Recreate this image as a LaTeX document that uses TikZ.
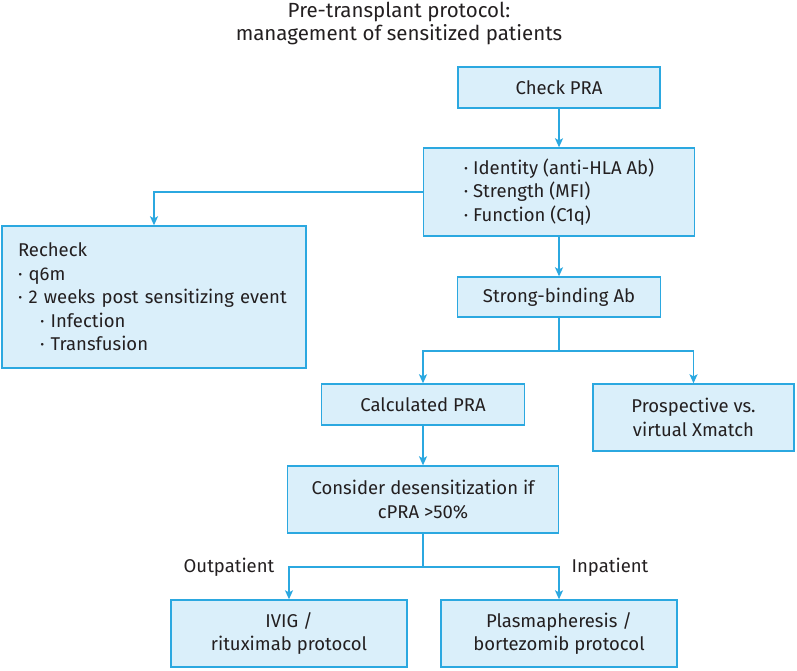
\documentclass[tikz,border=0pt]{standalone}
\usepackage{fontspec}
\setmainfont{Fira Sans}
\usetikzlibrary{arrows.meta,positioning,calc}
\definecolor{flowline}{HTML}{2BA8E0}
\definecolor{flowfill}{HTML}{DAEFFA}
\definecolor{flowtext}{HTML}{231F20}

\begin{document}
\begin{tikzpicture}[x=1pt,y=-1pt,font=\fontsize{18.5}{23.5}\selectfont,text=flowtext,
  box/.style={draw=flowline,fill=flowfill,line width=1.4pt,inner sep=0pt,align=center},
  link/.style={draw=flowline,line width=1.3pt},
  arr/.style={link,-{Stealth[length=9pt,width=8pt,inset=2pt]}}]
\useasboundingbox (0,0) rectangle (797,670);
\node[align=center,font=\fontsize{20.5}{23}\selectfont] (title) at (399,23)
  {Pre-transplant protocol:\\management of sensitized patients};
% main column
\node[box,minimum width=202,minimum height=41] (check) at (559,87.5) {Check PRA};
\node[box,minimum width=271,minimum height=88,align=left] (ident) at (559,192)
  {· Identity (anti-HLA Ab)\\· Strength (MFI)\\· Function (C1q)};
\node[box,minimum width=304,minimum height=142,text width=272,align=left] (recheck) at (154,297)
  {Recheck\\· q6m\\· 2 weeks post sensitizing event\\\hspace*{22pt}· Infection\\\hspace*{22pt}· Transfusion};
\node[box,minimum width=203,minimum height=40] (strong) at (559,297) {Strong-binding Ab};
\node[box,minimum width=203,minimum height=41] (calc) at (423,404.5) {Calculated PRA};
\node[box,minimum width=201,minimum height=67] (prosp) at (693.5,417.5) {Prospective vs.\\virtual Xmatch};
\node[box,minimum width=271,minimum height=67] (desens) at (423,499.5)
  {Consider desensitization if\\cPRA >50\%};
\node[box,minimum width=236,minimum height=67] (ivig) at (289,633.5) {IVIG /\\rituximab protocol};
\node[box,minimum width=236,minimum height=67] (plasma) at (559,633.5) {Plasmapheresis /\\bortezomib protocol};
\node (outpat) at (229,567) {Outpatient};
\node (inpat) at (610,567) {Inpatient};
% connectors
\coordinate (split1) at (559,351);
\coordinate (split2) at (423,567);
\draw[arr] (check) -- (ident);
\draw[arr] (ident.west) -| (recheck.north);
\draw[arr] (ident) -- (strong);
\draw[link] (strong.south) -- (split1);
\draw[arr] (split1) -| (calc.north);
\draw[arr] (split1) -| (prosp.north);
\draw[arr] (calc) -- (desens);
\draw[link] (desens.south) -- (split2);
\draw[arr] (split2) -| (ivig.north);
\draw[arr] (split2) -| (plasma.north);
\end{tikzpicture}
\end{document}
